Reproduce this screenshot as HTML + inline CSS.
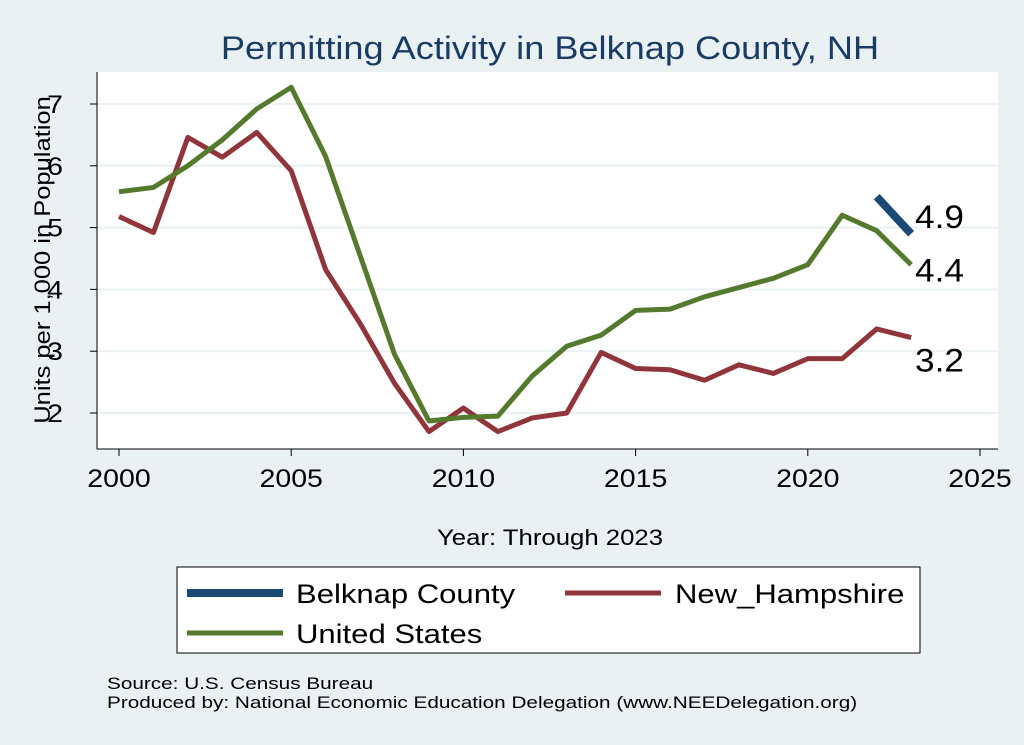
<!DOCTYPE html>
<html><head><meta charset="utf-8"><style>
body{margin:0;background:#eaf1f3;font-family:"Liberation Sans",sans-serif;}
svg{display:block}
</style></head><body>
<svg width="1024" height="745" xmlns="http://www.w3.org/2000/svg">
<rect width="1024" height="745" fill="#eaf1f3"/>
<text transform="translate(550,59) scale(1.13,1)" font-size="32" fill="#1a3c64" text-anchor="middle">Permitting Activity in Belknap County, NH</text>
<rect x="97" y="72" width="901" height="377" fill="#fff"/>
<g id="grid"></g>
<g id="axes"></g>
<g id="series"></g>
<text transform="translate(550,545) scale(1.17,1)" font-size="22" text-anchor="middle">Year: Through 2023</text>
<text transform="translate(50,260) rotate(-90) scale(1.16,1)" font-size="22" text-anchor="middle">Units per 1,000 in Population</text>
<g>
<rect x="177" y="567" width="743" height="86" fill="#fff" stroke="#000" stroke-width="1"/>
<g><line x1="187" y1="593" x2="283" y2="593" stroke="#1a4a74" stroke-width="8"/><text transform="translate(296,603) scale(1.15,1)" font-size="27">Belknap County</text></g>
<g><line x1="565" y1="593" x2="661" y2="593" stroke="#90353b" stroke-width="5"/><text transform="translate(675,603) scale(1.15,1)" font-size="27">New_Hampshire</text></g>
<g><line x1="187" y1="633" x2="283" y2="633" stroke="#557a2e" stroke-width="5"/><text transform="translate(296,643) scale(1.15,1)" font-size="27">United States</text></g>
</g>
<text transform="translate(107,689) scale(1.22,1)" font-size="17">Source: U.S. Census Bureau</text>
<text transform="translate(107,708) scale(1.22,1)" font-size="17">Produced by: National Economic Education Delegation (www.NEEDelegation.org)</text>
</svg>
<script>
const years=[2000,2001,2002,2003,2004,2005,2006,2007,2008,2009,2010,2011,2012,2013,2014,2015,2016,2017,2018,2019,2020,2021,2022,2023];
const usValues=[5.58,5.65,6.0,6.42,6.92,7.27,6.15,4.55,2.95,1.87,1.93,1.95,2.6,3.08,3.26,3.66,3.68,3.88,4.03,4.18,4.4,5.2,4.95,4.4];
const nhValues=[5.18,4.92,6.46,6.14,6.54,5.92,4.32,3.45,2.48,1.7,2.08,1.7,1.92,2.0,2.98,2.72,2.7,2.53,2.78,2.64,2.88,2.88,3.36,3.22];
const belknapYears=[2022,2023];
const belknapValues=[5.5,4.9];
const xTicks=[2000,2005,2010,2015,2020,2025];
const yTicks=[2,3,4,5,6,7];
const NS='http://www.w3.org/2000/svg';
const xs=y=>119+(y-2000)*(980-119)/25;
const ys=v=>413-(v-2)*(413-104)/5;
function mk(tag,attrs,parent){const e=document.createElementNS(NS,tag);for(const k in attrs)e.setAttribute(k,attrs[k]);document.getElementById(parent).appendChild(e);return e;}
yTicks.forEach(t=>{
 const g=mk('line',{x1:97,x2:998,y1:ys(t),y2:ys(t),stroke:'#eaf1f3','stroke-width':2},'grid');
 
 
 const tk=mk('line',{x1:90,x2:97,y1:ys(t),y2:ys(t),stroke:'#000'},'axes');
 
 
 const tx=mk('text',{transform:'translate(63,'+(ys(t)+9)+') scale(1.14,1)','font-size':25,'text-anchor':'end'},'axes');
 tx.textContent=t;
 
 
});
xTicks.forEach(t=>{
 const tk=mk('line',{x1:xs(t),x2:xs(t),y1:449,y2:456,stroke:'#000'},'axes');
 
 
 const tx=mk('text',{transform:'translate('+xs(t)+',487) scale(1.14,1)','font-size':25,'text-anchor':'middle'},'axes');
 tx.textContent=t;
 
 
});
const ya=mk('line',{x1:97,x2:97,y1:72,y2:449,stroke:'#000'},'axes');


const xa=mk('line',{x1:97,x2:998,y1:449,y2:449,stroke:'#000'},'axes');


function line(xv,vals,color,w,name){
 const p=mk('polyline',{points:xv.map((y,i)=>xs(y)+','+ys(vals[i])).join(' '),fill:'none',stroke:color,'stroke-width':w,'stroke-linejoin':'round'},'series');
 
 
}
line(years,nhValues,'#90353b',5,'line-new-hampshire');
line(years,usValues,'#557a2e',5,'line-united-states');
line(belknapYears,belknapValues,'#1a4a74',8,'line-belknap');
function lab(v,y,name){const t=mk('text',{transform:'translate(915,'+y+') scale(1.1,1)','font-size':32},'series');t.textContent=v.toFixed(1);
 
 }
lab(belknapValues[1],ys(belknapValues[1])-6,'label-belknap-last');
lab(usValues[23],ys(usValues[23])+17,'label-us-last');
lab(nhValues[23],ys(nhValues[23])+34,'label-nh-last');
</script>
</body></html>
